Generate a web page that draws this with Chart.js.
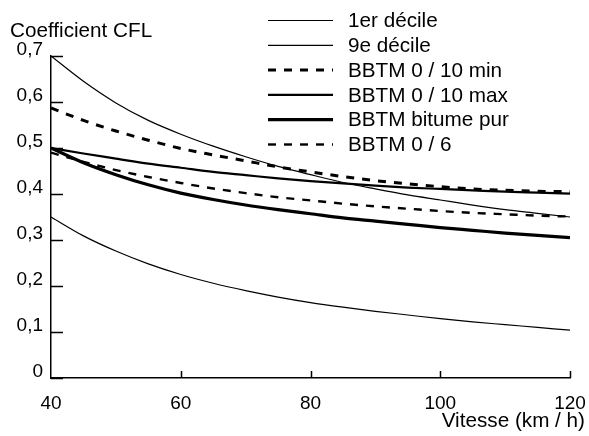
<!DOCTYPE html>
<html><head><meta charset="utf-8">
<script src="https://cdn.jsdelivr.net/npm/chart.js@4"></script>
<style>html,body{margin:0;padding:0;background:#fff}#wrap{width:589px;height:436px}</style>
</head><body><div id="wrap"><canvas id="c" width="589" height="436"></canvas></div>
<script>
// Speeds (km/h)
const speeds = [40, 45, 50, 55, 60, 65, 70, 75, 80, 85, 90, 95, 100, 105, 110, 115, 120];
// CFL coefficient values
const premierDecile = [0.350, 0.309, 0.276, 0.248, 0.225, 0.206, 0.190, 0.176, 0.164, 0.154, 0.145, 0.137, 0.129, 0.122, 0.116, 0.110, 0.104];
const neuviemeDecile = [0.700, 0.645, 0.598, 0.560, 0.530, 0.504, 0.481, 0.460, 0.442, 0.425, 0.411, 0.398, 0.387, 0.376, 0.366, 0.358, 0.350];
const bbtm010min = [0.587, 0.560, 0.537, 0.517, 0.499, 0.485, 0.472, 0.459, 0.448, 0.438, 0.429, 0.422, 0.416, 0.411, 0.408, 0.406, 0.405];
const bbtm010max = [0.500, 0.488, 0.477, 0.466, 0.457, 0.448, 0.441, 0.434, 0.428, 0.423, 0.418, 0.414, 0.411, 0.408, 0.405, 0.403, 0.401];
const bbtmBitumePur = [0.500, 0.468, 0.442, 0.420, 0.402, 0.388, 0.376, 0.366, 0.357, 0.348, 0.341, 0.334, 0.327, 0.321, 0.315, 0.310, 0.305];
const bbtm06 = [0.490, 0.470, 0.452, 0.437, 0.424, 0.412, 0.402, 0.393, 0.386, 0.379, 0.373, 0.368, 0.363, 0.359, 0.356, 0.353, 0.351];
const seriesNames = ['1er décile', '9e décile', 'BBTM 0 / 10 min', 'BBTM 0 / 10 max', 'BBTM bitume pur', 'BBTM 0 / 6'];
const xTicks = [40, 60, 80, 100, 120];
const yTicks = [0, 0.1, 0.2, 0.3, 0.4, 0.5, 0.6, 0.7];
const xTitle = 'Vitesse (km / h)';
const yTitle = 'Coefficient CFL';

const FONT = '"Liberation Sans", Arial, Helvetica, sans-serif';
const seriesValues = [premierDecile, neuviemeDecile, bbtm010min, bbtm010max, bbtmBitumePur, bbtm06];
const styles = [
  {w: 1.2, dash: []},
  {w: 1.2, dash: []},
  {w: 3, dash: [8, 8]},
  {w: 2.2, dash: []},
  {w: 3.2, dash: []},
  {w: 2.4, dash: [8, 8]}
];

const datasets = seriesNames.map((name, i) => ({
  label: name,
  data: speeds.map((s, j) => ({x: s, y: seriesValues[i][j]})),
  borderColor: '#000',
  backgroundColor: '#000',
  borderWidth: styles[i].w,
  borderDash: styles[i].dash,
  pointRadius: 0,
  fill: false,
  cubicInterpolationMode: 'monotone'
}));

const customPlugin = {
  id: 'custom',
  afterDraw(chart) {
    const {ctx, chartArea: {left, bottom}, scales: {x, y}} = chart;
    ctx.save();
    ctx.strokeStyle = '#000';
    ctx.lineWidth = 1.5;
    ctx.setLineDash([]);
    ctx.beginPath();
    y.ticks.forEach(t => {
      const py = Math.round(y.getPixelForValue(t.value)) + 0.5;
      ctx.moveTo(left, py); ctx.lineTo(left + 12, py);
    });
    x.ticks.forEach(t => {
      if (t.value === xTicks[0]) return;
      const px = Math.round(x.getPixelForValue(t.value)) + 0.5;
      ctx.moveTo(px, bottom); ctx.lineTo(px, bottom - 7);
    });
    ctx.stroke();

    ctx.fillStyle = '#000';
    ctx.font = '20.7px ' + FONT;
    ctx.textBaseline = 'alphabetic';
    ctx.textAlign = 'left';
    ctx.fillText(yTitle, 10, 37);
    ctx.textAlign = 'right';
    ctx.fillText(xTitle, 585, 427);

    // legend
    ctx.textAlign = 'left';
    ctx.textBaseline = 'middle';
    chart.data.datasets.forEach((ds, i) => {
      const ly = 20.5 + i * 24.8;
      ctx.lineWidth = ds.borderWidth;
      ctx.setLineDash(ds.borderDash || []);
      ctx.beginPath();
      ctx.moveTo(268, ly); ctx.lineTo(333, ly);
      ctx.stroke();
      ctx.fillText(ds.label, 348, ly + 1);
    });
    ctx.restore();
  }
};

new Chart(document.getElementById('c'), {
  type: 'line',
  data: {datasets},
  options: {
    responsive: false,
    animation: false,
    devicePixelRatio: 1,
    layout: {padding: {top: 56, right: 19, bottom: 0, left: 0}},
    plugins: {legend: {display: false}, tooltip: {enabled: false}},
    scales: {
      x: {
        type: 'linear', min: 40, max: 120,
        afterBuildTicks: s => { s.ticks = xTicks.map(v => ({value: v})); },
        afterFit: s => { s.height = 58; s.paddingLeft = 0; s.paddingRight = 0; },
        grid: {display: false, drawTicks: false},
        border: {display: true, color: '#000', width: 1.5},
        ticks: {color: '#000', font: {family: FONT, size: 19}, padding: 14, maxRotation: 0, autoSkip: false}
      },
      y: {
        type: 'linear', min: 0, max: 0.7,
        afterBuildTicks: s => { s.ticks = yTicks.map(v => ({value: v})); },
        afterFit: s => { s.width = 51; s.paddingTop = 0; s.paddingBottom = 0; },
        grid: {display: false, drawTicks: false},
        border: {display: true, color: '#000', width: 1.5},
        ticks: {
          color: '#000', font: {family: FONT, size: 19}, padding: 8, labelOffset: -6, autoSkip: false,
          callback: v => v === 0 ? '0' : v.toFixed(1).replace('.', ',')
        }
      }
    }
  },
  plugins: [customPlugin]
});
</script>
</body></html>
